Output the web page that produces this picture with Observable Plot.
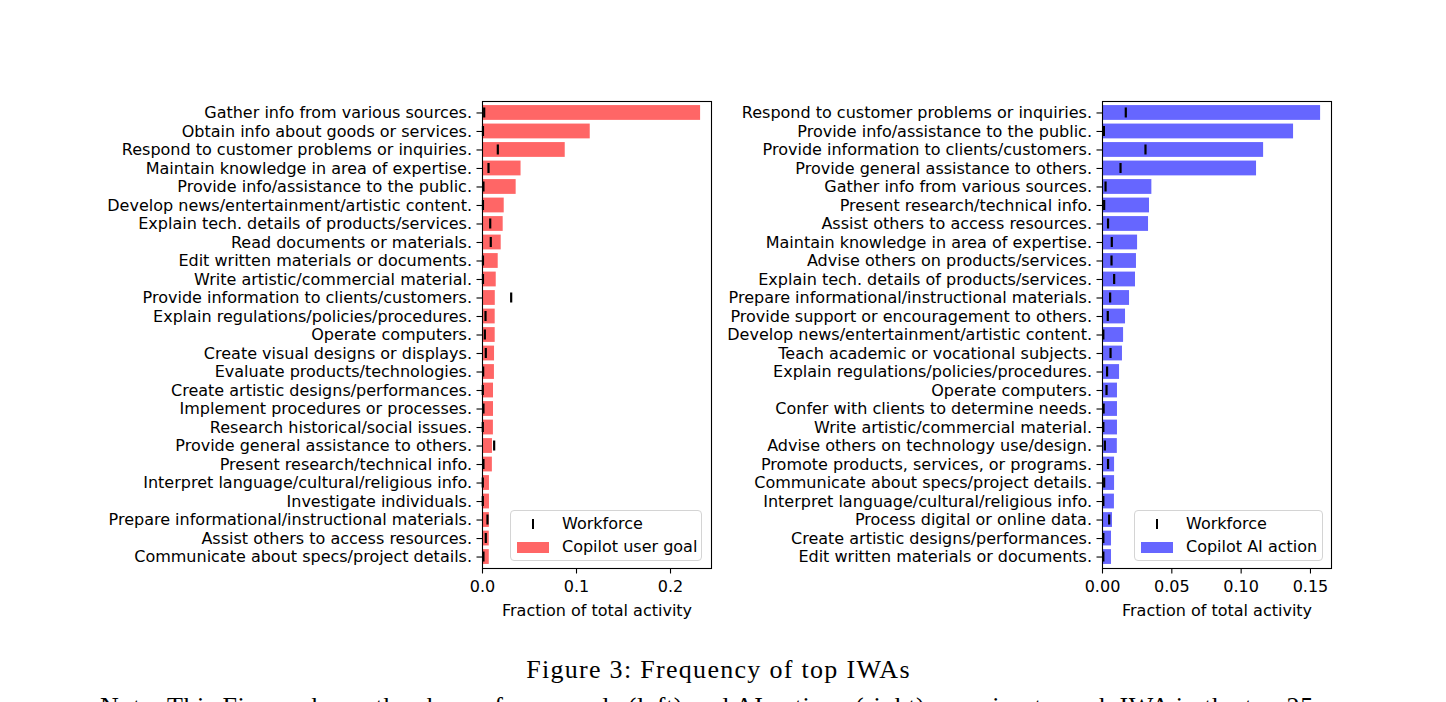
<!DOCTYPE html>
<html>
<head>
<meta charset="utf-8">
<script src="https://cdn.jsdelivr.net/npm/d3@7"></script>
<script src="https://cdn.jsdelivr.net/npm/@observablehq/plot@0.6"></script>
<style>
  body { margin: 0; background: #fff; }
  #wrap { position: relative; width: 1446px; height: 702px; overflow: hidden; background: #fff; font-family: "DejaVu Sans", sans-serif; color: #000; }
  .panel { position: absolute; top: 0; }
  .legend { position: absolute; box-sizing: border-box; border: 1px solid #d4d4d4; border-radius: 4px; background: rgba(255,255,255,0.8); font-size: 16px; color: #000; }
  .legend .txt { position: absolute; top: 0; white-space: nowrap; }
  .legend .mk { position: absolute; }
  .caption { position: absolute; left: 0; width: 1437px; text-align: center; font-family: "Liberation Serif", serif; font-size: 26px; line-height: 26px; letter-spacing: 1.3px; white-space: nowrap; }
  .note { position: absolute; left: 100px; font-family: "Liberation Serif", serif; font-size: 26px; line-height: 26px; letter-spacing: 0.55px; white-space: nowrap; }
</style>
</head>
<body>
<div id="wrap"></div>
<script>
// ---------- data ----------
const userLabels = [
  "Gather info from various sources.",
  "Obtain info about goods or services.",
  "Respond to customer problems or inquiries.",
  "Maintain knowledge in area of expertise.",
  "Provide info/assistance to the public.",
  "Develop news/entertainment/artistic content.",
  "Explain tech. details of products/services.",
  "Read documents or materials.",
  "Edit written materials or documents.",
  "Write artistic/commercial material.",
  "Provide information to clients/customers.",
  "Explain regulations/policies/procedures.",
  "Operate computers.",
  "Create visual designs or displays.",
  "Evaluate products/technologies.",
  "Create artistic designs/performances.",
  "Implement procedures or processes.",
  "Research historical/social issues.",
  "Provide general assistance to others.",
  "Present research/technical info.",
  "Interpret language/cultural/religious info.",
  "Investigate individuals.",
  "Prepare informational/instructional materials.",
  "Assist others to access resources.",
  "Communicate about specs/project details."
];
const userGoal = [0.232, 0.1146, 0.088, 0.041, 0.0358, 0.0231, 0.022, 0.0199, 0.0167, 0.0146,
  0.0136, 0.0135, 0.0135, 0.0128, 0.0127, 0.0117, 0.0117, 0.0116, 0.0106, 0.0105,
  0.0074, 0.0074, 0.0073, 0.0072, 0.0072];
const userWorkforce = [0.0018, 0.0005, 0.0163, 0.0064, 0.001, 0.0005, 0.0082, 0.0088, 0.0005, 0.0005,
  0.0305, 0.0032, 0.0025, 0.0035, 0.0007, 0.0003, 0.001, 0.0003, 0.0124, 0.001,
  0.0003, 0.0003, 0.0053, 0.0035, 0.001];

const aiLabels = [
  "Respond to customer problems or inquiries.",
  "Provide info/assistance to the public.",
  "Provide information to clients/customers.",
  "Provide general assistance to others.",
  "Gather info from various sources.",
  "Present research/technical info.",
  "Assist others to access resources.",
  "Maintain knowledge in area of expertise.",
  "Advise others on products/services.",
  "Explain tech. details of products/services.",
  "Prepare informational/instructional materials.",
  "Provide support or encouragement to others.",
  "Develop news/entertainment/artistic content.",
  "Teach academic or vocational subjects.",
  "Explain regulations/policies/procedures.",
  "Operate computers.",
  "Confer with clients to determine needs.",
  "Write artistic/commercial material.",
  "Advise others on technology use/design.",
  "Promote products, services, or programs.",
  "Communicate about specs/project details.",
  "Interpret language/cultural/religious info.",
  "Process digital or online data.",
  "Create artistic designs/performances.",
  "Edit written materials or documents."
];
const aiAction = [0.1573, 0.1378, 0.1162, 0.1111, 0.0356, 0.0339, 0.0332, 0.0253, 0.0245, 0.0238,
  0.0195, 0.0166, 0.0152, 0.0144, 0.0123, 0.0108, 0.0108, 0.0108, 0.0107, 0.0087,
  0.0087, 0.0086, 0.0072, 0.0065, 0.0065];
const aiWorkforce = [0.0168, 0.001, 0.031, 0.013, 0.0022, 0.0012, 0.004, 0.0067, 0.0065, 0.0084,
  0.0055, 0.0038, 0.0006, 0.0058, 0.0033, 0.0029, 0.0008, 0.0006, 0.0017, 0.004,
  0.0012, 0.0006, 0.0048, 0.0006, 0.0006];

const xTicksLeft = [0, 0.1, 0.2];
const xTicksRight = [0, 0.05, 0.10, 0.15];
const xLabel = "Fraction of total activity";
const legendWorkforce = "Workforce";
const legendUser = "Copilot user goal";
const legendAI = "Copilot AI action";
const captionText = "Figure 3: Frequency of top IWAs";
const noteText = "Note: This Figure shows the share of user goals (left) and AI actions (right) mapping to each IWA in the top 25";

const RED = "#ff6666";
const BLUE = "#6666ff";

// ---------- drawing ----------
const wrap = document.getElementById("wrap");
const FS = 16;

function panel(labels, values, workforce, color, ticks, fmt, ml, mr) {
  const rows = labels.map((l, i) => ({label: l, v: values[i], w: workforce[i]}));
  return Plot.plot({
    width: 723,
    height: 640,
    marginLeft: ml,
    marginRight: mr,
    marginTop: 101,
    marginBottom: 72,
    style: {fontFamily: "DejaVu Sans", fontSize: FS + "px", color: "#000", background: "transparent", overflow: "visible"},
    x: {domain: [0, d3.max(values) * 1.05]},
    y: {domain: labels, paddingInner: 0.2, paddingOuter: 0.22, round: false},
    marks: [
      Plot.barX(rows, {x: "v", y: "label", fill: color}),
      Plot.tickX(rows, {x: "w", y: "label", stroke: "#000", strokeWidth: 2.2, insetTop: 2.4, insetBottom: 2.4}),
      Plot.frame({stroke: "#000", strokeWidth: 1.1}),
      Plot.axisY({tickSize: 5.5, tickPadding: 5, label: null, fontSize: FS, stroke: "#000", strokeWidth: 1.1}),
      Plot.axisX({ticks: ticks, tickFormat: d3.format(fmt), tickSize: 5.5, tickPadding: 6.5, fontSize: FS,
        label: xLabel, labelAnchor: "center", labelArrow: "none", labelOffset: 47, stroke: "#000", strokeWidth: 1.1})
    ]
  });
}

const left = panel(userLabels, userGoal, userWorkforce, RED, xTicksLeft, ".1f", 482, 12);
left.classList.add("panel");
left.style.left = "0px";
wrap.appendChild(left);

const right = panel(aiLabels, aiAction, aiWorkforce, BLUE, xTicksRight, ".2f", 379, 115);
right.classList.add("panel");
right.style.left = "723px";
wrap.appendChild(right);

function legend(x, y, w, patchColor, patchLabel) {
  const box = document.createElement("div");
  box.className = "legend";
  box.style.left = x + "px";
  box.style.top = y + "px";
  box.style.width = w + "px";
  box.style.height = "51px";
  const entries = [
    {label: legendWorkforce, type: "tick", cy: 12.7},
    {label: patchLabel, type: "patch", cy: 36}
  ];
  for (const e of entries) {
    const mk = document.createElement("div");
    mk.className = "mk";
    if (e.type === "tick") {
      mk.style.left = (22 - 1.1) + "px";
      mk.style.top = (e.cy - 5) + "px";
      mk.style.width = "2.2px";
      mk.style.height = "10px";
      mk.style.background = "#000";
    } else {
      mk.style.left = "6px";
      mk.style.top = (e.cy - 5.5) + "px";
      mk.style.width = "31.6px";
      mk.style.height = "11px";
      mk.style.background = patchColor;
    }
    box.appendChild(mk);
    const t = document.createElement("div");
    t.className = "txt";
    t.style.left = "51px";
    t.style.top = (e.cy - 10) + "px";
    t.style.lineHeight = "20px";
    t.textContent = e.label;
    box.appendChild(t);
  }
  wrap.appendChild(box);
}
legend(510, 510, 192, RED, legendUser);
legend(1134, 510, 189, BLUE, legendAI);

const cap = document.createElement("div");
cap.className = "caption";
cap.style.top = "657px";
cap.textContent = captionText;
wrap.appendChild(cap);

const note = document.createElement("div");
note.className = "note";
note.style.top = "694px";
note.textContent = noteText;
wrap.appendChild(note);
</script>
</body>
</html>
